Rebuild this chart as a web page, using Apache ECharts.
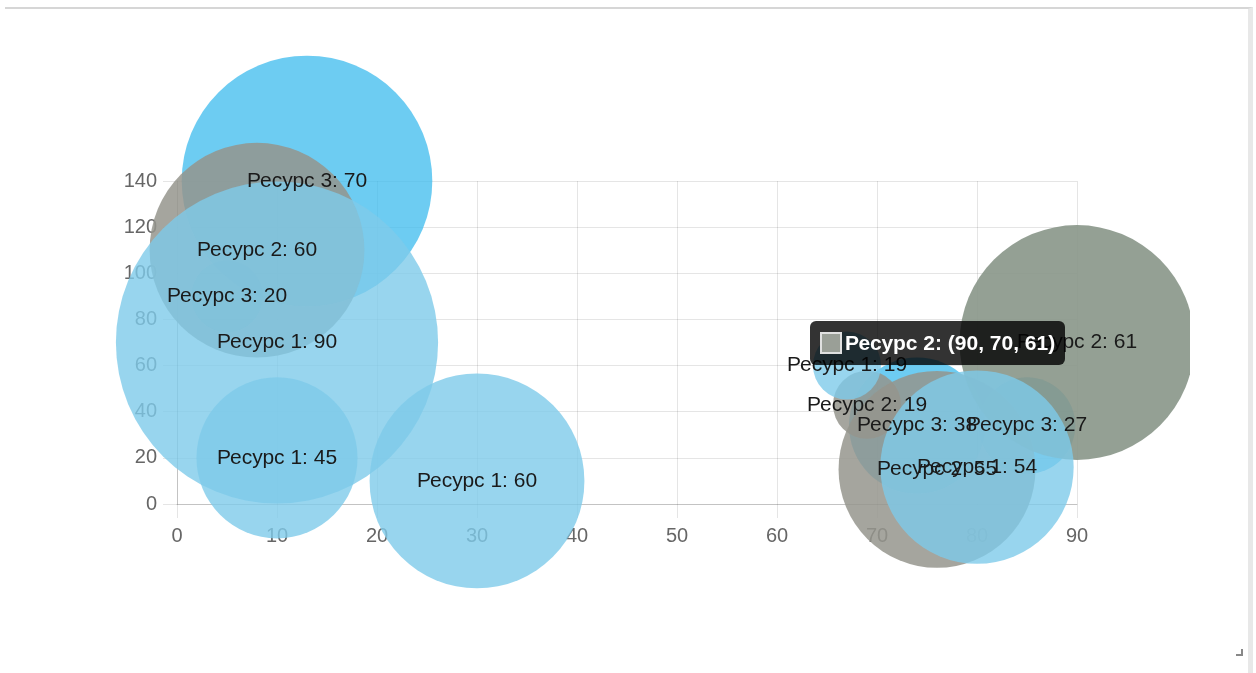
<!DOCTYPE html>
<html><head><meta charset="utf-8">
<script src="https://cdn.jsdelivr.net/npm/echarts@6/dist/echarts.min.js"></script>
<style>
html,body{margin:0;padding:0;background:#fff;width:1256px;height:673px;overflow:hidden;}
#frame{position:absolute;left:5px;top:7px;width:1243px;height:680px;border-top:2px solid #d6d6d6;border-right:5px solid #e8e8e8;}
#grip{position:absolute;left:1236px;top:649px;width:5px;height:5px;border-right:2px solid #888;border-bottom:2px solid #888;}
#chart{position:absolute;left:0;top:0;width:1190px;height:673px;}
</style></head><body>
<div id="frame"></div><div id="grip"></div><div id="chart"></div>
<script>
// Data: [x, y, r]
const seriesNames = ['Ресурс 1', 'Ресурс 2', 'Ресурс 3'];
const res1 = [[10, 70, 90], [10, 20, 45], [30, 10, 60], [67, 60, 19], [80, 16, 54]];
const res2 = [[8, 110, 60], [69, 43, 19], [76, 15, 55], [90, 70, 61]];
const res3 = [[13, 140, 70], [5, 90, 20], [74, 34, 38], [85, 34, 27]];
const xAxisTicks = [0, 10, 20, 30, 40, 50, 60, 70, 80, 90];
const yAxisTicks = [0, 20, 40, 60, 80, 100, 120, 140];
const hovered = { series: 1, index: 3 };

const colors = ['rgba(126,202,234,0.8)', 'rgba(149,149,141,0.85)', 'rgba(60,187,238,0.75)'];
const hoverColor = 'rgba(136,150,136,0.9)';
const FONT = '"Liberation Sans", Arial, sans-serif';
const RSCALE = 3.58;

const datasets = [res1, res2, res3];
const chart = echarts.init(document.getElementById('chart'));

const bubbleSeries = datasets.map((d, i) => ({
  type: 'scatter',
  name: seriesNames[i],
  data: d,
  z: 4 - i,
  symbol: 'circle',
  symbolSize: v => v[2] * RSCALE,
  itemStyle: { color: colors[i], borderWidth: 0, opacity: 1 },
  label: { show: false },
  emphasis: { scale: 1.075, focus: 'none', itemStyle: { color: i === hovered.series ? hoverColor : colors[i], opacity: 1 }, label: { show: false } }
}));
const labelSeries = datasets.map((d, i) => ({
  type: 'scatter',
  name: seriesNames[i] + ' labels',
  data: d,
  z: 10,
  silent: true,
  tooltip: { show: false },
  symbol: 'circle',
  symbolSize: 1,
  itemStyle: { color: 'rgba(0,0,0,0)', opacity: 1 },
  label: {
    show: true, position: 'inside', color: '#1a1a1a', fontSize: 21, fontFamily: FONT, opacity: 1,
    formatter: p => seriesNames[i] + ': ' + p.value[2]
  },
  emphasis: { disabled: true }
}));

chart.setOption({
  animation: false,
  backgroundColor: 'transparent',
  grid: { left: 177, right: 1190 - 1077, top: 181, bottom: 673 - 504, containLabel: false },
  xAxis: {
    type: 'value', min: xAxisTicks[0], max: xAxisTicks[xAxisTicks.length - 1], interval: xAxisTicks[1] - xAxisTicks[0],
    axisLine: { show: true, lineStyle: { color: 'rgba(0,0,0,0.15)', width: 1 } },
    axisTick: { show: true, length: 14, lineStyle: { color: 'rgba(0,0,0,0.1)' } },
    splitLine: { show: true, lineStyle: { color: 'rgba(0,0,0,0.1)', width: 1 } },
    axisLabel: { color: '#666', fontSize: 20, fontFamily: FONT, margin: 22 }
  },
  yAxis: {
    type: 'value', min: yAxisTicks[0], max: yAxisTicks[yAxisTicks.length - 1], interval: yAxisTicks[1] - yAxisTicks[0],
    axisLine: { show: true, lineStyle: { color: 'rgba(0,0,0,0.15)', width: 1 } },
    axisTick: { show: true, length: 14, lineStyle: { color: 'rgba(0,0,0,0.1)' } },
    splitLine: { show: true, lineStyle: { color: 'rgba(0,0,0,0.1)', width: 1 } },
    axisLabel: { color: '#666', fontSize: 20, fontFamily: FONT, margin: 20 }
  },
  tooltip: {
    trigger: 'item',
    triggerOn: 'none',
    alwaysShowContent: true,
    backgroundColor: 'rgba(0,0,0,0.8)',
    borderWidth: 0,
    borderRadius: 6,
    padding: [10, 10],
    textStyle: { color: '#fff', fontSize: 21, fontWeight: 'bold', fontFamily: FONT },
    extraCssText: 'box-shadow:none;line-height:24px;',
    transitionDuration: 0,
    formatter: p => '<span style="display:inline-block;width:18px;height:18px;border:2px solid #e0e0e0;background:#9a9f97;vertical-align:-4px;margin-right:3px;"></span>' +
      p.seriesName + ': (' + p.value[0] + ', ' + p.value[1] + ', ' + p.value[2] + ')',
    position: function (point, params, dom, rect, size) {
      const c = chart.convertToPixel({ seriesIndex: params.seriesIndex }, [params.value[0], params.value[1]]);
      return [c[0] - size.contentSize[0] - 12, c[1] - size.contentSize[1] / 2];
    }
  },
  series: bubbleSeries.concat(labelSeries)
});

chart.dispatchAction({ type: 'highlight', seriesIndex: hovered.series, dataIndex: hovered.index });
chart.dispatchAction({ type: 'showTip', seriesIndex: hovered.series, dataIndex: hovered.index });
</script>
</body></html>
